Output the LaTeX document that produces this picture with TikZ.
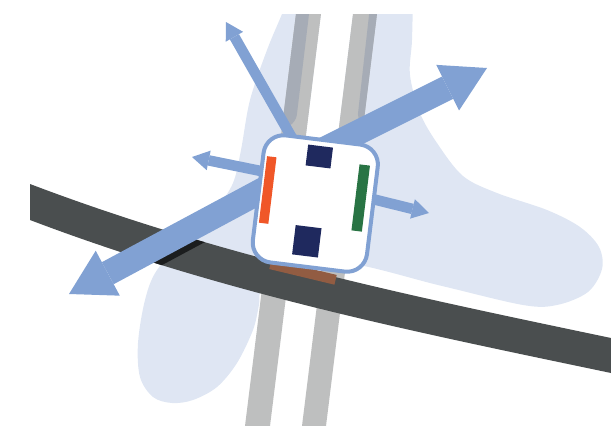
\documentclass[tikz,border=0pt]{standalone}
\usetikzlibrary{arrows.meta,calc}

\definecolor{zone}{HTML}{DFE6F3}
\definecolor{flow}{HTML}{81A1D3}
\definecolor{asphalt}{HTML}{4A4E4F}
\definecolor{asphaltshade}{HTML}{1B1D1E}
\definecolor{railgray}{HTML}{BEBFBF}
\definecolor{railshade}{HTML}{A6ACB6}
\definecolor{padnavy}{HTML}{1F295E}
\definecolor{padorange}{HTML}{F05728}
\definecolor{padgreen}{HTML}{297444}
\definecolor{padbrown}{HTML}{925C42}

\begin{document}
\begin{tikzpicture}[x=1pt, y=-1pt,
  bigarrow/.style={draw=flow, line width=25pt,
    -{Triangle[length=44pt, width=51pt, line width=0pt]}},
  thinarrow/.style={draw=flow, line width=10.5pt,
    -{Triangle[length=17pt, width=20pt, line width=0pt]}},
  hubbox/.style={draw=flow, line width=4pt, fill=white, rounded corners=20pt,
    inner sep=0pt, outer sep=0pt},
  chip/.style={inner sep=0pt, outer sep=0pt, draw=none},
]
\useasboundingbox (0,0) rectangle (611,426);

% zone, corridor and rails (cut flat along the top)
\begin{scope}
  \clip (0,14) rectangle (611,426);
  \fill[zone] plot[smooth cycle, tension=0.55] coordinates {
    (300,-60) (413,-60) (413,-10) (412,40) (410,75) (420,113) (437,143)
    (463,176) (497,193) (547,210) (580,227) (599,247) (602,269) (588,292)
    (557,305) (523,305) (440,285.5) (345,263) (290,274) (262,290) (259,305)
    (253,330) (237,363) (217,387) (193,400) (172,403) (153,397) (140,377)
    (138,343) (145,300) (157,270) (187,237) (217,207) (233,183) (241,150)
    (250,100) (267,50) (282,14) (292,-12)};
  % open corridor between the rails
  \fill[white] (322.7,0) -- (354.7,0) -- (302,426) -- (270,426) -- cycle;
  % rails
  \fill[railgray] (297.7,0) -- (322.7,0) -- (270,426) -- (245,426) -- cycle;
  \fill[railgray] (354.7,0) -- (378.7,0) -- (326,426) -- (302,426) -- cycle;
  % shaded outer edges of the rails
  \fill[railshade, rounded corners=7pt]
    (297.7,0) -- (310.7,0) -- (296,122) -- (281.6,130) -- cycle;
  \fill[railshade, rounded corners=4pt]
    (370.7,0) -- (378.7,0) -- (363.5,124) -- (357.5,118) -- cycle;
\end{scope}

% road
\def\roadpath{(30,184) .. controls (224,257.7) and (417,297.3) .. (611,338)
  -- (611,373) .. controls (417,332.3) and (224,293.7) .. (30,220) -- cycle}
\fill[asphalt] \roadpath;

% arrow ends
\coordinate (ur-tail) at (315,154);
\coordinate (ur-tip)  at (487,68);
\coordinate (dl-tail) at (315,162);
\coordinate (dl-tip)  at (69,294);
\coordinate (ul-tail) at (300,152);
\coordinate (ul-tip)  at (226,22);
\coordinate (l-tail)  at (300,179);
\coordinate (l-tip)   at (192,157);
\coordinate (r-tail)  at (330,188.5);
\coordinate (r-tip)   at (429,213);

% shadow of the long arrow on the road
\begin{scope}
  \clip \roadpath;
  \draw[asphaltshade, line width=25pt]
    ($(dl-tail)+(2.8,5.3)$) -- ($(dl-tip)+(2.8,5.3)$);
\end{scope}

% arrows
\draw[bigarrow]  (ur-tail) -- (ur-tip);
\draw[bigarrow]  (dl-tail) -- (dl-tip);
\draw[thinarrow] (ul-tail) -- (ul-tip);
\draw[thinarrow] (l-tail)  -- (l-tip);
\draw[thinarrow] (r-tail)  -- (r-tip);

% base plate under the hub
\node[chip, fill=padbrown, minimum width=67pt, minimum height=10pt, rotate=-13.5]
  (plate) at (303,272) {};

% hub
\node[hubbox, minimum width=115pt, minimum height=128pt, rotate=-7]
  (hub) at (315.3,203.5) {};

% pads on the hub
\node[chip, fill=padnavy, minimum width=25pt, minimum height=21pt, rotate=-7]
  (pad-top) at (319.3,156.5) {};
\node[chip, fill=padnavy, minimum width=26pt, minimum height=29.5pt, rotate=-7]
  (pad-bottom) at (306.8,241.3) {};
\node[chip, fill=padorange, minimum width=9.5pt, minimum height=67pt, rotate=-7]
  (pad-left) at (267.7,190) {};
\node[chip, fill=padgreen, minimum width=10.5pt, minimum height=66.5pt, rotate=-7]
  (pad-right) at (360.7,198) {};
\end{tikzpicture}
\end{document}
